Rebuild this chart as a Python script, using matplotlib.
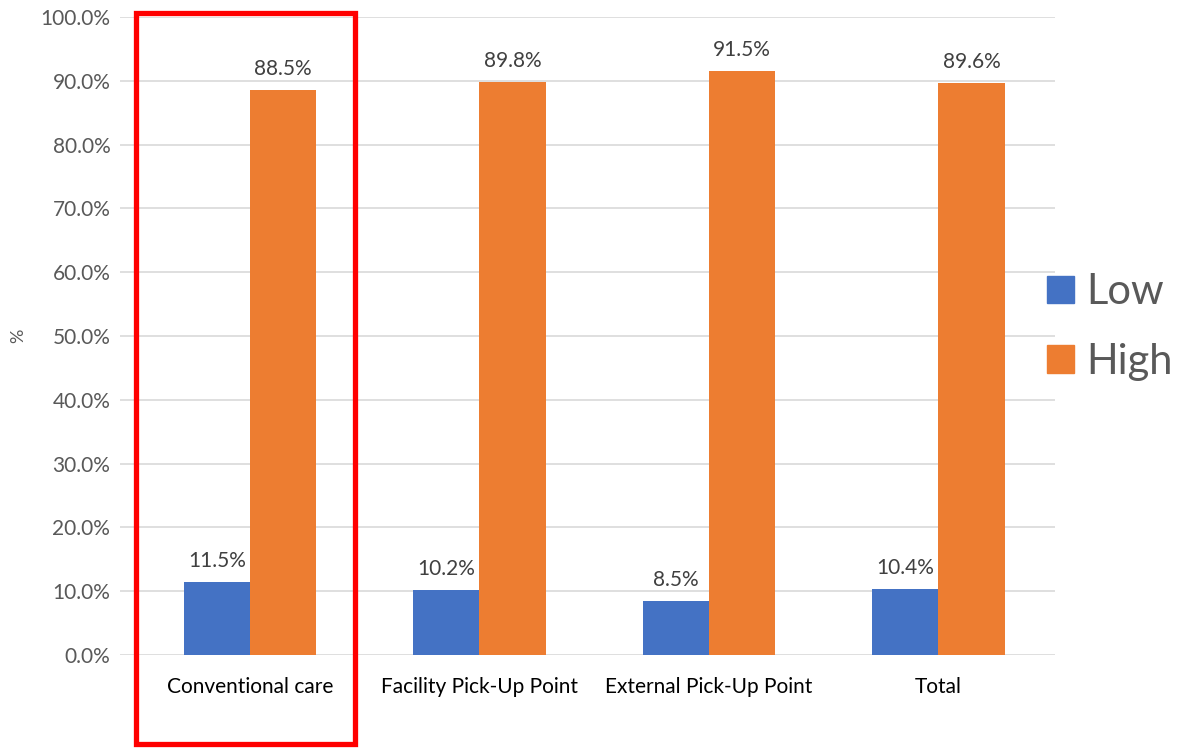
import matplotlib
matplotlib.use("Agg")
import matplotlib.pyplot as plt
from matplotlib.patches import Rectangle, Patch
import numpy as np

plt.rcParams['font.family'] = ['Lato', 'DejaVu Sans']

categories = ["Conventional care", "Facility Pick-Up Point", "External Pick-Up Point", "Total"]
low = [11.5, 10.2, 8.5, 10.4]
high = [88.5, 89.8, 91.5, 89.6]
series_names = ["Low", "High"]
colors = ["#4472C4", "#ED7D31"]

fig = plt.figure(figsize=(11.78, 7.49), dpi=100)
ax = fig.add_axes([120 / 1178, 1 - 655 / 749, (1055 - 120) / 1178, (655 - 17) / 749])

x = np.arange(len(categories))
w = 0.288
b1 = ax.bar(x - w / 2, low, w, color=colors[0], label=series_names[0], zorder=3)
b2 = ax.bar(x + w / 2, high, w, color=colors[1], label=series_names[1], zorder=3)

for bars, vals in ((b1, low), (b2, high)):
    for rect, v in zip(bars, vals):
        ax.annotate(f"{v:.1f}%", (rect.get_x() + rect.get_width() / 2, v),
                    xytext=(0, 8), textcoords="offset points",
                    ha="center", va="bottom", fontsize=15, color="#404040")

ax.set_ylim(0, 100)
ax.set_xlim(-0.566, 3.508)
ax.set_yticks(np.arange(0, 101, 10))
ax.set_yticklabels([f"{t:.1f}%" for t in np.arange(0, 101, 10)])
ax.set_xticks(x)
ax.set_xticklabels(categories)
ax.tick_params(axis="y", length=0, labelsize=15, labelcolor="#595959", pad=7)
ax.tick_params(axis="x", length=0, labelsize=15, labelcolor="#000000", pad=16)
ax.grid(axis="y", color="#D9D9D9", linewidth=1.2, zorder=0)
for s in ax.spines.values():
    s.set_visible(False)
ax.set_ylabel("%", fontsize=13, color="#595959", labelpad=10)

handles = [Patch(color=c) for c in colors]
fig.legend(handles, series_names, loc="center left", bbox_to_anchor=(1047 / 1178, 1 - 327 / 749),
           frameon=False, fontsize=30, labelcolor="#595959", handlelength=0.64, handleheight=0.64,
           handletextpad=0.3, labelspacing=0.76, borderpad=0, borderaxespad=0)

fig.patches.append(Rectangle((135.5 / 1178, 1 - 744 / 749), (354.5 - 135.5) / 1178, (744 - 13) / 749,
                             transform=fig.transFigure, fill=False, edgecolor="#FF0000",
                             linewidth=3.8, zorder=10))

fig.savefig("out.png", dpi=100)
